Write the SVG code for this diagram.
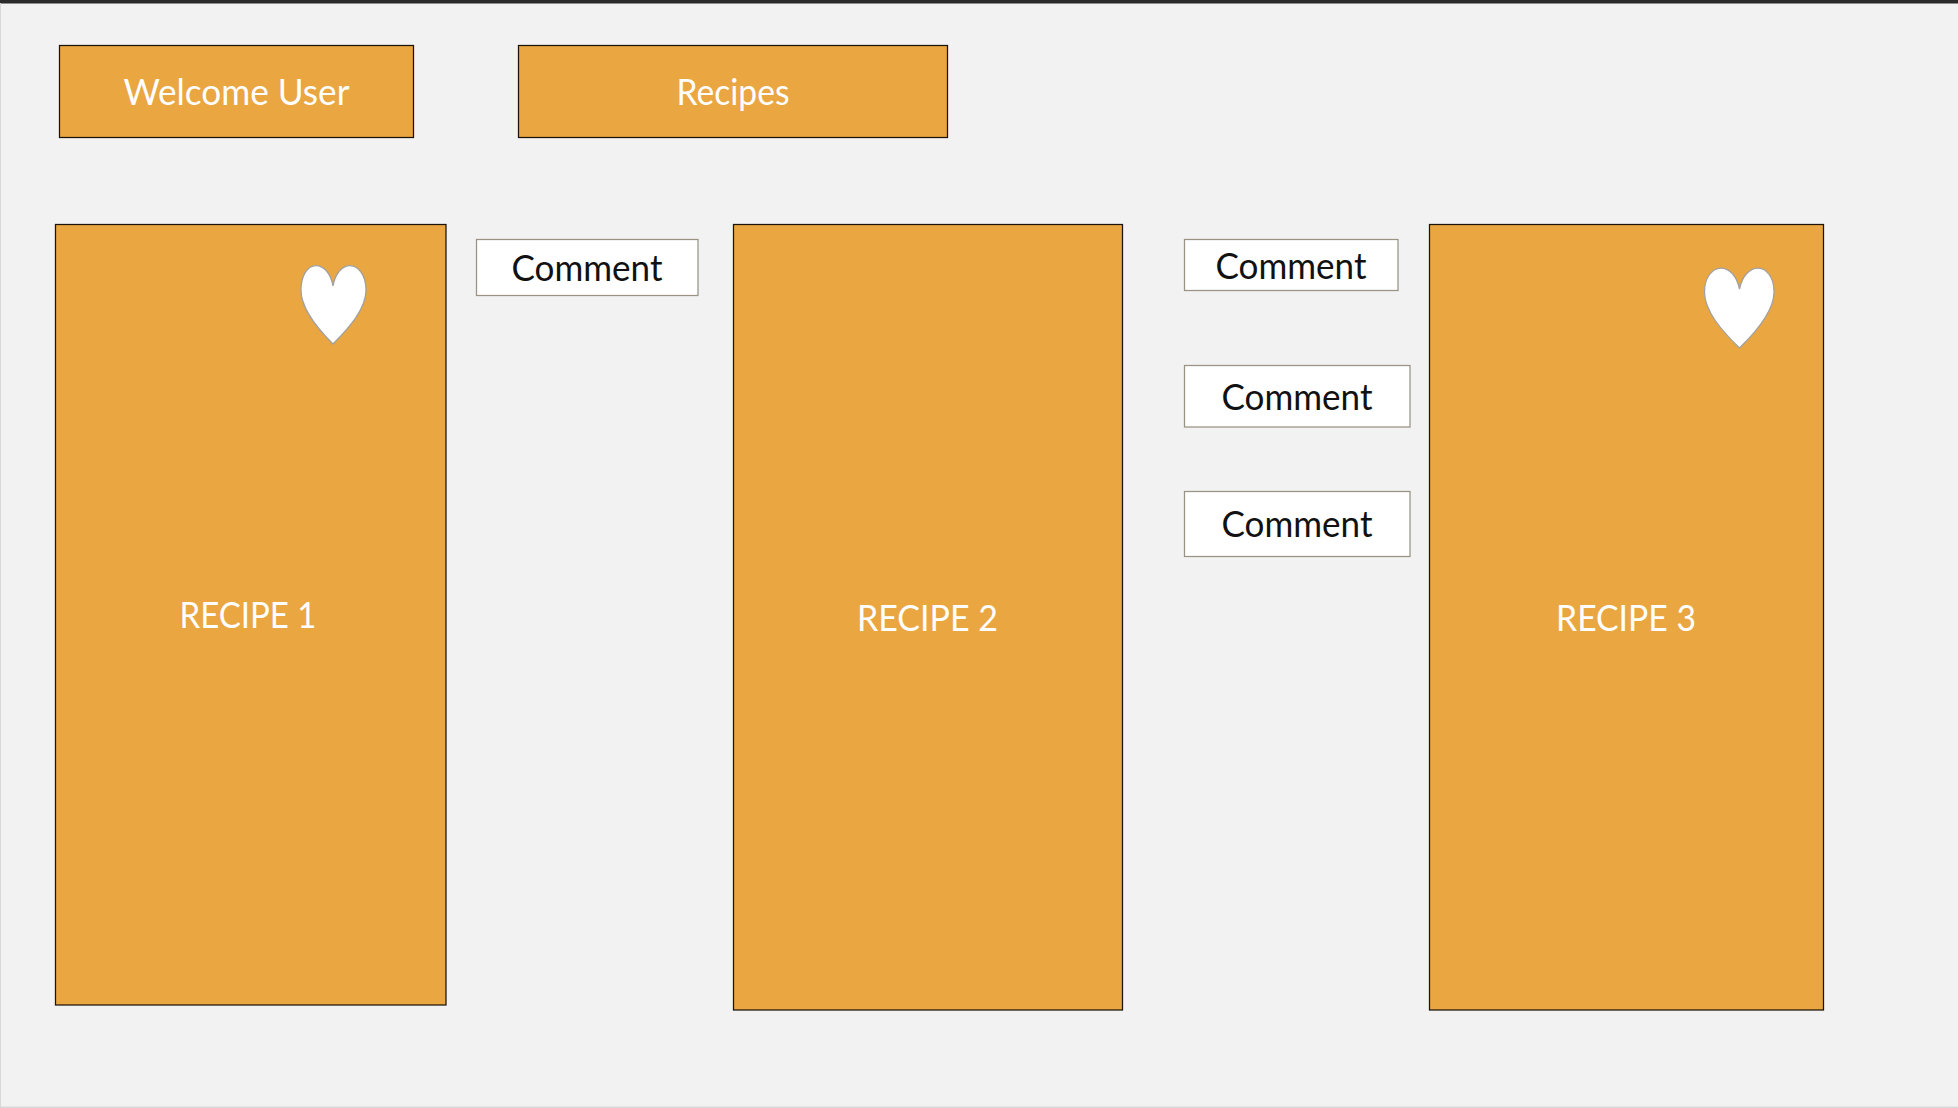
<svg xmlns="http://www.w3.org/2000/svg" width="1958" height="1108" viewBox="0 0 1958 1108">
<style>
.card{fill:#eaa640;stroke:#1c1408;stroke-width:1.25}
.box{fill:#fff;stroke:#9a9384;stroke-width:1.25}
.heart{fill:#fff;stroke:#a0a0a0;stroke-width:1.25}
text{font-family:"Lato","Open Sans","Liberation Sans",sans-serif;text-anchor:middle}
.w{fill:#fff;font-size:36px}
.k{fill:#111;font-size:36px}
</style>
<rect width="1958" height="1108" fill="#f2f2f2"/>
<rect x="0" y="0" width="1958" height="3.500" fill="#2b2b2b"/>
<rect x="0" y="3" width="1" height="1105" fill="#d8d8d8"/>
<rect x="0" y="1106.500" width="1958" height="1.500" fill="#d8d8d8"/>
<g id="welcome"><rect class="card" x="59.500" y="45.500" width="354" height="92"/><text class="w" x="236.500" y="104.500" textLength="226" lengthAdjust="spacingAndGlyphs">Welcome User</text></g>
<g id="recipes"><rect class="card" x="518.500" y="45.500" width="429" height="92"/><text class="w" x="733" y="104.500" textLength="113" lengthAdjust="spacingAndGlyphs">Recipes</text></g>
<g id="recipe1"><rect class="card" x="55.500" y="224.500" width="390.500" height="780.500"/><text class="w" x="248" y="628" textLength="137" lengthAdjust="spacingAndGlyphs">RECIPE 1</text>
<path class="heart" d="M333 344C317 328 301 309 301 290C301 275 308 265.500 316 265.500C324 265.500 331 274 333 286C335 274 342 265.500 350 265.500C358 265.500 366 275 366 290C366 309 349 328 333 344Z"/></g>
<g id="recipe2"><rect class="card" x="733.500" y="224.500" width="389" height="785.500"/><text class="w" x="927.500" y="631" textLength="141" lengthAdjust="spacingAndGlyphs">RECIPE 2</text></g>
<g id="recipe3"><rect class="card" x="1429.500" y="224.500" width="394" height="785.500"/><text class="w" x="1626" y="631" textLength="140" lengthAdjust="spacingAndGlyphs">RECIPE 3</text>
<path class="heart" d="M1739.500 348C1722 331 1704.500 311 1704.500 292C1704.500 278 1712 268 1721 268C1730 268 1737 277 1739.500 289C1742 277 1749 268 1758 268C1767 268 1774 278 1774 292C1774 311 1757 331 1739.500 348Z"/></g>
<g id="comment1"><rect class="box" x="476.500" y="239.500" width="221.500" height="56"/><text class="k" x="587" y="281" textLength="151" lengthAdjust="spacingAndGlyphs">Comment</text></g>
<g id="comment2"><rect class="box" x="1184.500" y="239.500" width="213.500" height="51"/><text class="k" x="1291" y="279" textLength="151" lengthAdjust="spacingAndGlyphs">Comment</text></g>
<g id="comment3"><rect class="box" x="1184.500" y="365.500" width="225.500" height="61.500"/><text class="k" x="1297" y="410" textLength="151" lengthAdjust="spacingAndGlyphs">Comment</text></g>
<g id="comment4"><rect class="box" x="1184.500" y="491.500" width="225.500" height="65"/><text class="k" x="1297" y="537" textLength="151" lengthAdjust="spacingAndGlyphs">Comment</text></g>
</svg>
